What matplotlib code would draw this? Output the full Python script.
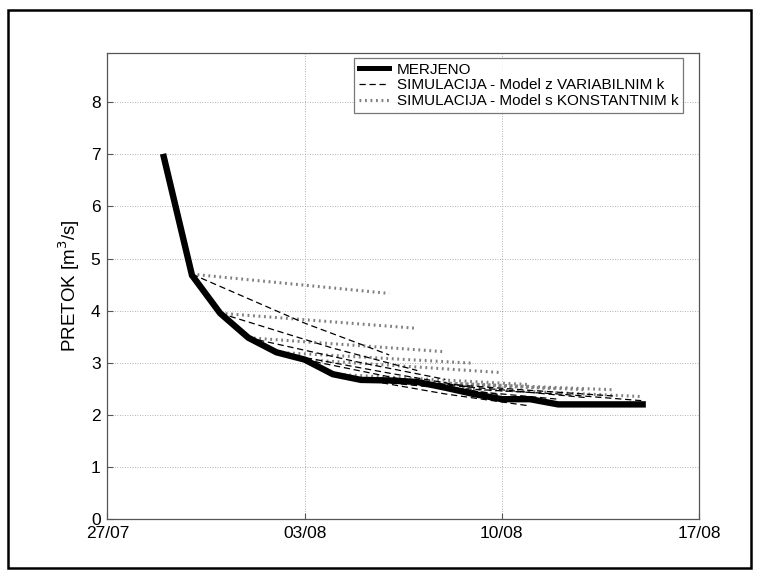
import matplotlib
matplotlib.use("Agg")
import matplotlib.pyplot as plt
from matplotlib.patches import Rectangle

plt.rcParams['font.family'] = ['Liberation Sans', 'DejaVu Sans']

# --- data: days counted from 27/07 ---
tick_days = [0, 7, 14, 21]
tick_labels = ['27/07', '03/08', '10/08', '17/08']

meas_days = list(range(2, 20))
meas_flow = [6.95, 4.68, 3.95, 3.48, 3.20, 3.06, 2.78, 2.67, 2.66,
             2.63, 2.52, 2.40, 2.30, 2.30, 2.20, 2.20, 2.20, 2.20]

# simulations start on each day from 30/07 to 08/08 and run 7 days
sim_start = [3, 4, 5, 6, 7, 8, 9, 10, 11, 12]
sim_v0 = [4.70, 3.95, 3.48, 3.20, 3.06, 2.78, 2.67, 2.66, 2.63, 2.52]
# variable k: value after 4 days and after 7 days
var_mid = [3.76, 3.28, 3.00, 2.80, 2.62, 2.40, 2.45, 2.48, 2.47, 2.40]
var_end = [3.15, 2.85, 2.68, 2.52, 2.38, 2.17, 2.30, 2.33, 2.36, 2.27]
# constant k: value after 7 days
const_end = [4.33, 3.66, 3.21, 2.99, 2.81, 2.58, 2.50, 2.48, 2.48, 2.35]

fig = plt.figure(figsize=(7.6, 5.75), dpi=100)
ax = fig.add_axes([0.1414, 0.0974, 0.7783, 0.8099])

fig.patches.append(Rectangle((8 / 760, 1 - 568 / 575), 743 / 760, 558 / 575,
                             transform=fig.transFigure, fill=False,
                             edgecolor='black', linewidth=1.8))

ax.plot(meas_days, meas_flow, color='black', linewidth=4.6,
        solid_joinstyle='miter', label='MERJENO', zorder=4)

for i, d0 in enumerate(sim_start):
    ax.plot([d0, d0 + 4, d0 + 7], [sim_v0[i], var_mid[i], var_end[i]],
            color='black', linestyle=(0, (5, 3)), linewidth=0.9, zorder=3,
            label='SIMULACIJA - Model z VARIABILNIM k' if i == 0 else None)
for i, d0 in enumerate(sim_start):
    ax.plot([d0, d0 + 7], [sim_v0[i], const_end[i]],
            color='#808080', linestyle=(0, (0.6, 1.2)), linewidth=2.2, zorder=2,
            label='SIMULACIJA - Model s KONSTANTNIM k' if i == 0 else None)

ax.set_xlim(0, 21)
ax.set_ylim(0, 8.94)
ax.set_xticks(tick_days)
ax.set_xticklabels(tick_labels)
ax.set_yticks(range(0, 9))
ax.tick_params(direction='in', length=4, labelsize=12.5, color='#555555', pad=5)
ax.grid(True, linestyle=(0, (1, 2)), color='#999999', linewidth=0.6)
for s in ax.spines.values():
    s.set_color('#555555')
    s.set_linewidth(0.9)

ax.set_ylabel('PRETOK [m$^3$/s]', fontsize=13.5, labelpad=6)

leg = ax.legend(loc='upper right', bbox_to_anchor=(0.973, 0.99), fontsize=11,
                frameon=True, fancybox=False, edgecolor='#555555',
                handlelength=2.0, borderpad=0.3, labelspacing=0.12,
                handletextpad=0.5, borderaxespad=0)
leg.get_frame().set_linewidth(0.9)
leg.get_lines()[0].set_linewidth(3.6)

fig.savefig('out.png', dpi=100)
